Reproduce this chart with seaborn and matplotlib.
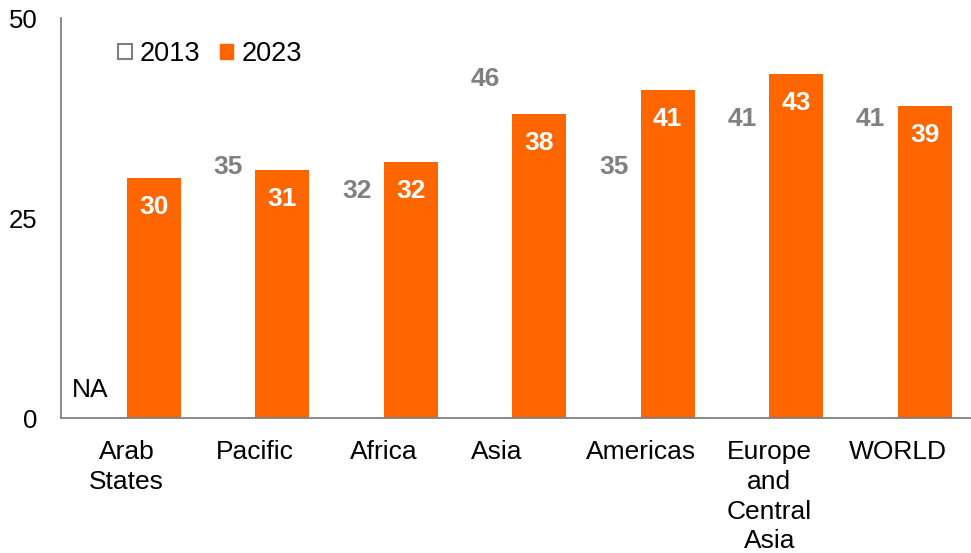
import numpy as np
import pandas as pd
import matplotlib
matplotlib.use("Agg")
import matplotlib.pyplot as plt
import matplotlib.transforms as mtransforms
from matplotlib.patches import Patch
import seaborn as sns

# chart data
regions = ["Arab\nStates", "Pacific", "Africa", "Asia", "Americas",
           "Europe\nand\nCentral\nAsia", "WORLD"]
years = ["2013", "2023"]
vals_2013 = [np.nan, 35, 32, 46, 35, 41, 41]
vals_2023 = [30, 31, 32, 38, 41, 43, 39]
y_ticks = [0, 25, 50]

ORANGE = "#FF6600"
GREY = "#808080"

df = pd.DataFrame({
    "region": regions * 2,
    "year": [years[0]] * len(regions) + [years[1]] * len(regions),
    "value": vals_2013 + vals_2023,
})

sns.set_theme(style="white")
plt.rcParams["font.family"] = ["Liberation Sans", "DejaVu Sans"]

fig = plt.figure(figsize=(9.71, 5.53), dpi=100)
ax = fig.add_axes([61 / 971, 135 / 553, 910 / 971, 400 / 553])

sns.barplot(data=df, x="region", y="value", hue="year", order=regions,
            hue_order=years, palette={"2013": "white", "2023": ORANGE},
            width=0.84, saturation=1, linewidth=0, legend=False, ax=ax)

ax.set_xlim(-0.51, 6.57)
ax.set_ylim(0, 50)
ax.set_yticks(y_ticks)
ax.set_xlabel("")
ax.set_ylabel("")

# value labels inside the bar tops
label_colors = [GREY, "white"]
for container, col in zip(ax.containers, label_colors):
    for bar in container:
        h = bar.get_height()
        if np.isnan(h) or h == 0:
            continue
        ax.annotate(f"{h:.0f}", (bar.get_x() + bar.get_width() / 2, h),
                    xytext=(0, -29), textcoords="offset pixels",
                    ha="center", va="center", fontsize=19,
                    fontweight="bold", color=col)

# missing 2013 value for Arab States
na_x = ax.get_xticks()[regions.index("Arab\nStates")] - 0.28
ax.text(na_x, 3.5, "NA", ha="center", va="center", fontsize=19, color="black")

for side in ["top", "right"]:
    ax.spines[side].set_visible(False)
for side in ["left", "bottom"]:
    ax.spines[side].set_color(GREY)
    ax.spines[side].set_linewidth(1.3)

ax.tick_params(axis="x", length=0, pad=16, labelsize=19, colors="black")
ax.tick_params(axis="y", length=5, width=1.3, color=GREY, pad=12,
               labelsize=18.5, labelcolor="black")
for t in ax.yaxis.get_major_ticks()[:-1]:
    t.tick1line.set_visible(False)
for lbl in ax.get_xticklabels():
    lbl.set_linespacing(1.3)

# Asia label sits a bit left of its group in the original
asia_lbl = ax.get_xticklabels()[regions.index("Asia")]
asia_lbl.set_transform(asia_lbl.get_transform() +
                       mtransforms.ScaledTranslation(-15 / 100, 0, fig.dpi_scale_trans))

handles = [Patch(facecolor="white", edgecolor=GREY, linewidth=1.5),
           Patch(facecolor=ORANGE, edgecolor=ORANGE)]
ax.legend(handles, years, loc="center left", bbox_to_anchor=(0.063, 0.91),
          ncol=2, frameon=False, fontsize=19.5, labelcolor="black",
          handlelength=0.5, handleheight=0.5, handletextpad=0.3,
          columnspacing=0.7, borderpad=0, borderaxespad=0)

fig.savefig("out.png", dpi=100)
